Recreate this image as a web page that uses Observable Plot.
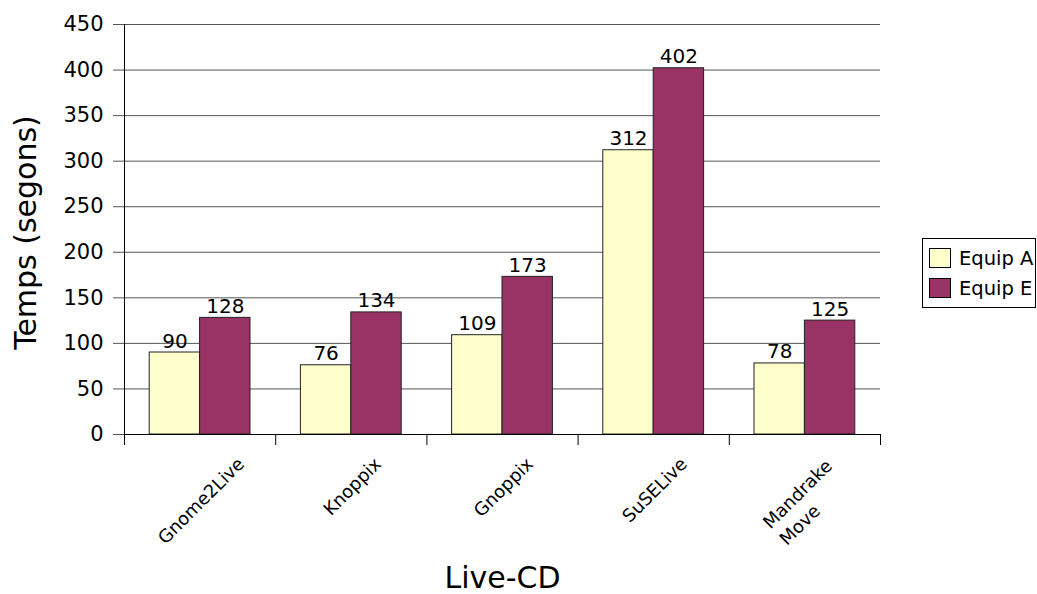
<!DOCTYPE html>
<html><head><meta charset="utf-8">
<script src="https://cdn.jsdelivr.net/npm/d3@7"></script>
<script src="https://cdn.jsdelivr.net/npm/@observablehq/plot@0.6"></script>
<style>
body{margin:0;background:#fff;font-family:"DejaVu Sans",sans-serif;}
#wrap{position:relative;width:1037px;height:594px;}
#legend{position:absolute;left:922px;top:238px;width:114px;height:70px;border:1px solid #000;box-sizing:border-box;background:#fff;}
.item{position:absolute;left:6px;height:20px;display:flex;align-items:center;font-size:19.5px;color:#000;white-space:nowrap;}
.sw{width:22px;height:20px;border:1px solid #000;box-sizing:border-box;margin-right:8px;flex:none;}
</style></head><body><div id="wrap"></div>
<script>
const categories = ["Gnome2Live", "Knoppix", "Gnoppix", "SuSELive", "Mandrake\nMove"];
const seriesNames = ["Equip A", "Equip E"];
const equipA = [90, 76, 109, 312, 78];
const equipE = [128, 134, 173, 402, 125];
const seriesColors = ["#ffffcc", "#993366"];
const yTicks = [0, 50, 100, 150, 200, 250, 300, 350, 400, 450];
const yTitle = "Temps (segons)";
const xTitle = "Live-CD";

const rows = [];
categories.forEach((c, i) => {
  [equipA, equipE].forEach((vals, j) => rows.push({cat: c, idx: i, j, s: seriesNames[j], v: vals[i]}));
});

const gap = 1 / 6, bw = 1 / 3;
const xFont = 18, xLineHeight = 1.3;
const ctx = document.createElement("canvas").getContext("2d");
ctx.font = `${xFont}px "DejaVu Sans"`;
const c45 = Math.SQRT1_2;
const xLabelMarks = categories.map((c, i) => {
  const lines = c.split("\n");
  const W = d3.max(lines, l => ctx.measureText(l).width);
  const H = lines.length * xFont * (lines.length > 1 ? xLineHeight : 1);
  const top = 19;
  const cy = top + (W + H) * c45 / 2;
  return Plot.text([{label: c, pos: i + 0.5}], {
    x: "pos", y: d => 0, text: "label", rotate: -45,
    textAnchor: "start", lineAnchor: "middle", lineHeight: xLineHeight,
    fontSize: xFont, dx: -W / 2 * c45, dy: cy + W / 2 * c45
  });
});

const chart = Plot.plot({
  width: 1037, height: 594,
  marginLeft: 124, marginRight: 157, marginTop: 24, marginBottom: 160,
  style: {fontFamily: "DejaVu Sans", background: "#fff", color: "#000", overflow: "visible"},
  x: {type: "linear", domain: [0, categories.length]},
  y: {domain: [0, 450]},
  color: {domain: seriesNames, range: seriesColors},
  marks: [
    Plot.gridY(yTicks, {stroke: "#555", strokeOpacity: 1}),
    Plot.axisY(yTicks, {tickSize: 11, tickPadding: 10, fontSize: 21, label: null, stroke: "#555"}),
    Plot.axisX(d3.range(categories.length + 1), {tickSize: 11, tickFormat: () => "", label: null, stroke: "#000"}),
    Plot.rectY(rows, {
      x1: d => d.idx + gap + d.j * bw, x2: d => d.idx + gap + (d.j + 1) * bw,
      y1: d => 0, y2: "v", fill: "s", stroke: "#222", strokeWidth: 1
    }),
    Plot.text(rows, {
      x: d => d.idx + gap + (d.j + 0.5) * bw, y: "v", text: d => String(d.v),
      lineAnchor: "bottom", dy: -5, fontSize: 20
    }),
    Plot.ruleX([0], {y1: 0, y2: 450, stroke: "#000"}),
    Plot.ruleY([0], {stroke: "#000"}),
    ...xLabelMarks,
    Plot.text([yTitle], {text: d => d, frameAnchor: "left", textAnchor: "middle", rotate: -90, lineAnchor: "middle", dx: -98.5, dy: 3, fontSize: 30}),
    Plot.text([xTitle], {text: d => d, frameAnchor: "bottom", textAnchor: "middle", lineAnchor: "middle", dy: 144, fontSize: 30})
  ]
});
const wrap = document.getElementById("wrap");
wrap.appendChild(chart);

const legend = document.createElement("div");
legend.id = "legend";
seriesNames.forEach((s, j) => {
  const it = document.createElement("div");
  it.className = "item";
  it.style.top = (9 + j * 30) + "px";
  const sw = document.createElement("span");
  sw.className = "sw";
  sw.style.background = seriesColors[j];
  const tx = document.createElement("span");
  tx.textContent = s;
  it.appendChild(sw); it.appendChild(tx);
  legend.appendChild(it);
});
wrap.appendChild(legend);
</script></body></html>
